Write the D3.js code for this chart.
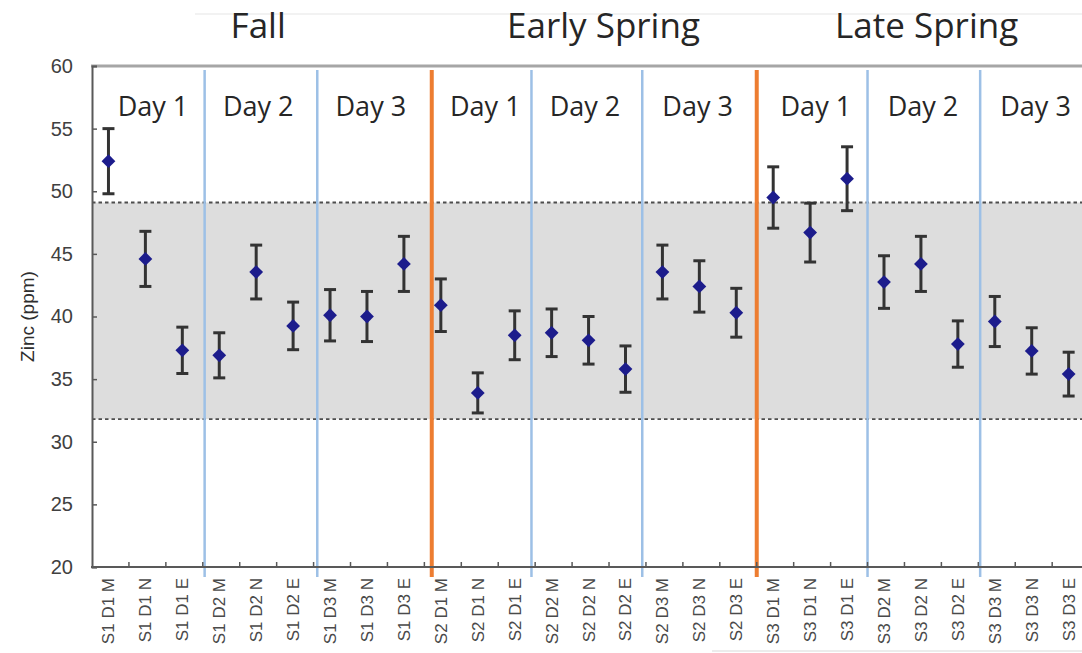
<!DOCTYPE html>
<html>
<head>
<meta charset="utf-8">
<script src="https://cdn.jsdelivr.net/npm/d3@7"></script>
<style>
  body { margin: 0; background: #fff; }
  svg { display: block; }
</style>
</head>
<body>
<div id="chart-area"></div>
<script>
// site / day / time of sampling -> tick labels
var sites = ["S1", "S2", "S3"];
var days = ["D1", "D2", "D3"];
var times = ["M", "N", "E"];
var categories = [];
sites.forEach(s => days.forEach(d => times.forEach(t => categories.push(s + " " + d + " " + t))));

// zinc mean and error (ppm)
var means = [52.4, 44.6, 37.3, 36.9, 43.55, 39.25, 40.1, 40.0, 44.2,
             40.9, 33.9, 38.5, 38.7, 38.1, 35.8, 43.55, 42.4, 40.3,
             49.5, 46.7, 51.0, 42.75, 44.2, 37.8, 39.6, 37.25, 35.4];
var errors = [2.6, 2.2, 1.85, 1.8, 2.15, 1.9, 2.05, 2.0, 2.2,
              2.1, 1.6, 1.95, 1.9, 1.9, 1.85, 2.15, 2.05, 1.95,
              2.45, 2.35, 2.55, 2.1, 2.2, 1.85, 2.0, 1.85, 1.75];

// reference range (grey band)
var refLow = 31.8;
var refHigh = 49.1;

// hand drawn separators, in category units
var separators = [3.05, 6.1, 9.2, 11.9, 14.9, 18.0, 21.0, 24.05];
var separatorTypes = ["day", "day", "season", "day", "day", "season", "day", "day"];

var dayLabels = ["Day 1", "Day 2", "Day 3", "Day 1", "Day 2", "Day 3", "Day 1", "Day 2", "Day 3"];
var dayCenters = [1.65, 4.5, 7.55, 10.65, 13.35, 16.4, 19.6, 22.5, 25.55];
var seasons = ["Fall", "Early Spring", "Late Spring"];
var seasonCenters = [4.5, 13.85, 22.6];

var yTicks = [20, 25, 30, 35, 40, 45, 50, 55, 60];

var W = 1082, H = 653;
var margin = { top: 66, left: 92 };
var step = 36.93;
var plotRight = margin.left + categories.length * step;
var plotBottom = 567;

var svg = d3.select("#chart-area")
    .append("svg")
        .attr("width", W)
        .attr("height", H);

var x = d3.scaleBand()
    .domain(categories)
    .range([margin.left, plotRight])
    .paddingInner(0)
    .paddingOuter(0);

// same axis, in category units, for separators and headers
var xu = d3.scaleLinear()
    .domain([0, categories.length])
    .range([margin.left, plotRight]);

var y = d3.scaleLinear()
    .domain([20, 60])
    .range([plotBottom, margin.top]);

// faint frame lines of the cropped slide
svg.append("line")
    .attr("x1", 195).attr("x2", W)
    .attr("y1", 14).attr("y2", 14)
    .style("stroke", "#eeeeee").style("stroke-width", 1.5);
svg.append("line")
    .attr("x1", 712).attr("x2", W)
    .attr("y1", 651).attr("y2", 651)
    .style("stroke", "#e6e6e6").style("stroke-width", 1.5);

// grey reference band
svg.append("rect")
    .attr("x", margin.left)
    .attr("y", y(refHigh))
    .attr("width", plotRight - margin.left)
    .attr("height", y(refLow) - y(refHigh))
    .style("fill", "#dddddd");

svg.selectAll(".ref-line")
    .data([refLow, refHigh])
    .enter()
    .append("line")
        .attr("class", "ref-line")
        .attr("x1", margin.left)
        .attr("x2", plotRight)
        .attr("y1", d => y(d))
        .attr("y2", d => y(d))
        .style("stroke", "#4d4d4d")
        .style("stroke-width", 1.8)
        .style("stroke-dasharray", "3.5,3");

// top border of plot area
svg.append("line")
    .attr("x1", margin.left - 1)
    .attr("x2", W)
    .attr("y1", y(60))
    .attr("y2", y(60))
    .style("stroke", "#a6a6a6")
    .style("stroke-width", 3);

// separators
svg.selectAll(".sep")
    .data(separators)
    .enter()
    .append("line")
        .attr("class", "sep")
        .attr("x1", d => xu(d))
        .attr("x2", d => xu(d))
        .attr("y1", 70)
        .attr("y2", plotBottom + 10)
        .style("stroke", (d, i) => separatorTypes[i] === "season" ? "#ed7d31" : "#9dc0e6")
        .style("stroke-width", (d, i) => separatorTypes[i] === "season" ? 4 : 2.5);

// y axis
var yAxisCall = d3.axisLeft(y)
    .tickValues(yTicks)
    .tickSize(-5)
    .tickPadding(19);
var yAxis = svg.append("g")
    .attr("class", "y-axis")
    .attr("transform", "translate(" + margin.left + ", 0)")
    .call(yAxisCall);
yAxis.select(".domain").style("stroke", "#595959").style("stroke-width", 2);
yAxis.selectAll(".tick line").style("stroke", "#595959").style("stroke-width", 1.5);
yAxis.selectAll("text")
    .style("font-family", "'Liberation Sans', Arial, sans-serif")
    .style("font-size", "20px")
    .style("fill", "#404040");

// x axis: labels from band scale, boundary ticks drawn separately
var xAxisCall = d3.axisBottom(x).tickSize(0).tickPadding(0);
var xAxis = svg.append("g")
    .attr("class", "x-axis")
    .attr("transform", "translate(0, " + plotBottom + ")")
    .call(xAxisCall);
xAxis.select(".domain").remove();
xAxis.selectAll("text")
    .attr("text-anchor", "end")
    .attr("transform", "translate(-2, 11) rotate(-90)")
    .attr("x", 0)
    .attr("y", 0)
    .attr("dy", "0.35em")
    .style("font-family", "'Liberation Sans', Arial, sans-serif")
    .style("font-size", "17px")
    .style("fill", "#4a4a4a");

svg.append("line")
    .attr("x1", margin.left - 1)
    .attr("x2", W)
    .attr("y1", plotBottom)
    .attr("y2", plotBottom)
    .style("stroke", "#595959")
    .style("stroke-width", 2);

svg.selectAll(".x-tick")
    .data(d3.range(1, categories.length + 1))
    .enter()
    .append("line")
        .attr("class", "x-tick")
        .attr("x1", d => xu(d))
        .attr("x2", d => xu(d))
        .attr("y1", plotBottom - 5)
        .attr("y2", plotBottom)
        .style("stroke", "#595959")
        .style("stroke-width", 1.5);

// y axis title
svg.append("text")
    .attr("transform", "translate(34, " + y(40) + ") rotate(-90)")
    .attr("text-anchor", "middle")
    .style("font-family", "'Liberation Sans', Arial, sans-serif")
    .style("font-size", "19px")
    .style("fill", "#2e2e2e")
    .text("Zinc (ppm)");

// error bars
var points = categories.map((c, i) => ({ cat: c, mean: means[i], err: errors[i] }));
var cx = d => x(d.cat) + x.bandwidth() / 2 - 2;

var bars = svg.selectAll(".err")
    .data(points)
    .enter()
    .append("g")
        .attr("class", "err")
        .style("stroke", "#333333")
        .style("stroke-width", 3);
bars.append("line")
    .attr("x1", cx).attr("x2", cx)
    .attr("y1", d => y(d.mean + d.err))
    .attr("y2", d => y(d.mean - d.err));
bars.append("line")
    .attr("x1", d => cx(d) - 6).attr("x2", d => cx(d) + 6)
    .attr("y1", d => y(d.mean + d.err))
    .attr("y2", d => y(d.mean + d.err));
bars.append("line")
    .attr("x1", d => cx(d) - 6).attr("x2", d => cx(d) + 6)
    .attr("y1", d => y(d.mean - d.err))
    .attr("y2", d => y(d.mean - d.err));

// markers
svg.selectAll(".marker")
    .data(points)
    .enter()
    .append("path")
        .attr("class", "marker")
        .attr("d", d3.symbol().type(d3.symbolSquare).size(95))
        .attr("transform", d => "translate(" + cx(d) + ", " + y(d.mean) + ") rotate(45)")
        .style("fill", "#1c1c8c");

// day labels
svg.selectAll(".day-label")
    .data(dayLabels)
    .enter()
    .append("text")
        .attr("class", "day-label")
        .attr("x", (d, i) => xu(dayCenters[i]))
        .attr("y", 116)
        .attr("text-anchor", "middle")
        .style("font-family", "'Open Sans', sans-serif")
        .style("font-size", "27px")
        .style("fill", "#262626")
        .text(d => d);

// season headers
svg.selectAll(".season")
    .data(seasons)
    .enter()
    .append("text")
        .attr("class", "season")
        .attr("x", (d, i) => xu(seasonCenters[i]))
        .attr("y", 38)
        .attr("text-anchor", "middle")
        .style("font-family", "'Open Sans', sans-serif")
        .style("font-size", "35px")
        .style("fill", "#262626")
        .text(d => d);
</script>
</body>
</html>
